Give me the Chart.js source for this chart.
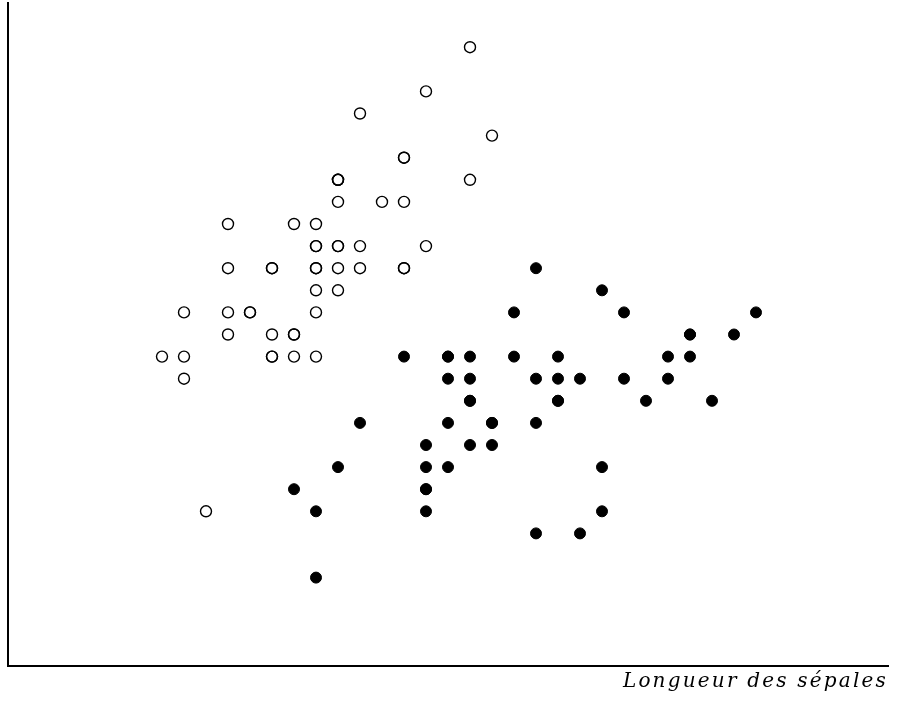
<!DOCTYPE html>
<html lang="fr">
<head>
  <meta charset="UTF-8">
  <title>Longueur des sépales</title>
  <script src="https://cdn.jsdelivr.net/npm/chart.js"></script>
  <style>
    html, body { margin: 0; padding: 0; background: #fff; }
    .wrap { width: 897px; height: 706px; }
  </style>
</head>
<body>
  <div class="wrap"><canvas id="irisChart"></canvas></div>

  <script>
    // Groupe 1 (cercles ouverts) : longueur / largeur des sépales
    const openLength = [5.1, 4.9, 4.7, 4.6, 5.0, 5.4, 4.6, 5.0, 4.4, 4.9, 5.4, 4.8, 4.8, 4.3, 5.8, 5.7, 5.4, 5.1, 5.7, 5.1,
                        5.4, 5.1, 4.6, 5.1, 4.8, 5.0, 5.0, 5.2, 5.2, 4.7, 4.8, 5.4, 5.2, 5.5, 4.9, 5.0, 5.5, 4.9, 4.4, 5.1,
                        5.0, 4.5, 4.4, 5.0, 5.1, 4.8, 5.1, 4.6, 5.3, 5.0];
    const openWidth  = [3.5, 3.0, 3.2, 3.1, 3.6, 3.9, 3.4, 3.4, 2.9, 3.1, 3.7, 3.4, 3.0, 3.0, 4.0, 4.4, 3.9, 3.5, 3.8, 3.8,
                        3.4, 3.7, 3.6, 3.3, 3.4, 3.0, 3.4, 3.5, 3.4, 3.2, 3.1, 3.4, 4.1, 4.2, 3.1, 3.2, 3.5, 3.6, 3.0, 3.4,
                        3.5, 2.3, 3.2, 3.5, 3.8, 3.0, 3.8, 3.2, 3.7, 3.3];

    // Groupe 2 (points pleins)
    const fullLength = [7.0, 6.4, 6.9, 5.5, 6.5, 5.7, 6.3, 4.9, 6.6, 5.2, 5.0, 5.9, 6.0, 6.1, 5.6, 6.7, 5.6, 5.8, 6.2, 5.6,
                        5.9, 6.1, 6.3, 6.1, 6.4, 6.6, 6.8, 6.7, 6.0, 5.7, 5.5, 5.5, 5.8, 6.0, 5.4, 6.0, 6.7, 6.3, 5.6, 5.5,
                        5.5, 6.1, 5.8, 5.0, 5.6, 5.7, 5.7, 6.2, 5.1, 5.7];
    const fullWidth  = [3.2, 3.2, 3.1, 2.3, 2.8, 2.8, 3.3, 2.4, 2.9, 2.7, 2.0, 3.0, 2.2, 2.9, 2.9, 3.1, 3.0, 2.7, 2.2, 2.5,
                        3.2, 2.8, 2.5, 2.8, 2.9, 3.0, 2.8, 3.0, 2.9, 2.6, 2.4, 2.4, 2.7, 2.7, 3.0, 3.4, 3.1, 2.3, 3.0, 2.5,
                        2.6, 3.0, 2.6, 2.3, 2.7, 3.0, 2.9, 2.9, 2.5, 2.8];

    const xLimits = [3.6, 7.6];
    const yLimits = [1.6, 4.6];
    const xTitle = 'Longueur des sépales';

    const toPoints = (xs, ys) => xs.map((x, i) => ({ x: x, y: ys[i] }));

    // espacement des lettres du titre de l'axe
    const spacing = {
      id: 'spacing',
      beforeDraw(chart) { chart.ctx.letterSpacing = '2.2px'; }
    };

    new Chart(document.getElementById('irisChart'), {
      type: 'scatter',
      data: {
        datasets: [
          {
            data: toPoints(openLength, openWidth),
            pointStyle: 'circle',
            pointRadius: 5.5,
            pointBorderWidth: 1.4,
            pointBorderColor: '#000',
            pointBackgroundColor: 'rgba(255,255,255,0)'
          },
          {
            data: toPoints(fullLength, fullWidth),
            pointStyle: 'circle',
            pointRadius: 5.5,
            pointBorderWidth: 1,
            pointBorderColor: '#000',
            pointBackgroundColor: '#000'
          }
        ]
      },
      options: {
        responsive: true,
        maintainAspectRatio: false,
        animation: false,
        layout: { autoPadding: false, padding: { left: 8, right: 9, top: 3, bottom: 7 } },
        scales: {
          x: {
            min: xLimits[0],
            max: xLimits[1],
            grid: { display: false, drawTicks: false },
            border: { color: '#000', width: 2 },
            ticks: { display: false },
            title: {
              display: true,
              text: xTitle,
              align: 'end',
              color: '#000',
              font: { family: 'DejaVu Serif', style: 'italic', size: 20 },
              padding: { top: 4, bottom: 5 }
            }
          },
          y: {
            min: yLimits[0],
            max: yLimits[1],
            grid: { display: false, drawTicks: false },
            border: { color: '#000', width: 2 },
            ticks: { display: false }
          }
        },
        plugins: {
          legend: { display: false },
          tooltip: { enabled: false }
        }
      },
      plugins: [spacing]
    });
  </script>
</body>
</html>
